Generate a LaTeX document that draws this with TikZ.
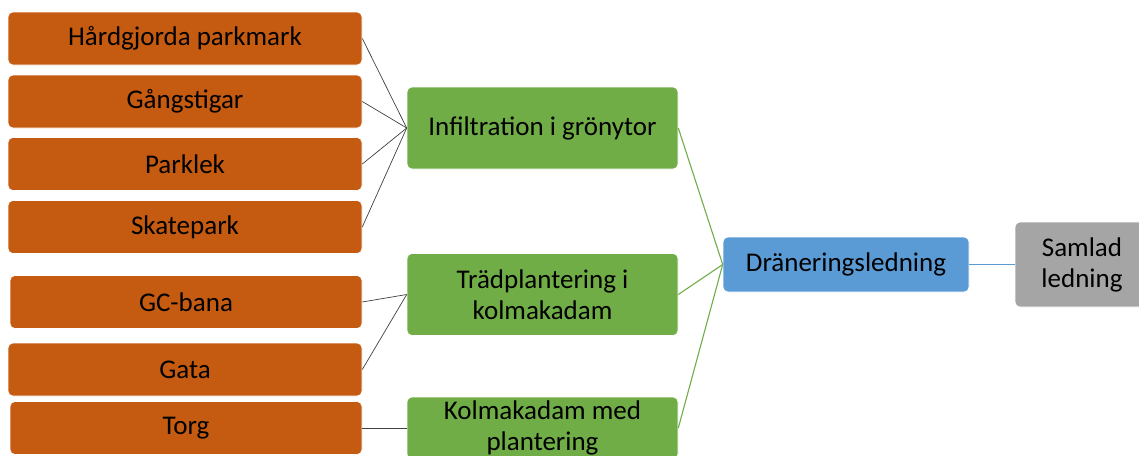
\documentclass[tikz,border=0pt]{standalone}
\usepackage{fontspec}
\setmainfont{Carlito}
\definecolor{orfill}{HTML}{C55A11}
\definecolor{grfill}{HTML}{70AD47}
\definecolor{blfill}{HTML}{5B9BD5}
\definecolor{gyfill}{HTML}{A5A5A5}
\definecolor{conn}{HTML}{404040}
\tikzset{
  box/.style={rounded corners=5pt, draw=white, line width=0.6pt, align=center, inner sep=0pt,
    font=\fontsize{27}{31}\selectfont, text=black},
  obox/.style={box, fill=orfill, minimum width=354pt, minimum height=53pt},
  gbox/.style={box, fill=grfill, minimum width=271pt, minimum height=82pt},
  bbox/.style={box, fill=blfill, minimum width=246pt, minimum height=55pt},
  ybox/.style={box, fill=gyfill, minimum width=134pt, minimum height=85pt},
  gline/.style={draw=conn, line width=0.7pt},
  grline/.style={draw=grfill, line width=1.1pt},
  blline/.style={draw=blfill, line width=1.1pt},
}
\begin{document}
\begin{tikzpicture}[x=1pt,y=-1pt]
\useasboundingbox (0,0) rectangle (1139,455);
\clip (0,0) rectangle (1139,455);
\node[obox] (o1) at (185,38.5) {Hårdgjorda parkmark};
\node[obox] (o2) at (185,101.5) {Gångstigar};
\node[obox] (o3) at (185,164) {Parklek};
\node[obox] (o4) at (185,227) {Skatepark};
\node[obox, minimum width=352pt] (o5) at (186,302) {GC-bana};
\node[obox] (o6) at (185,369.5) {Gata};
\node[obox, minimum width=352pt] (o7) at (186,428) {Torg};
\node[gbox] (g1) at (542.5,128) {Infiltration i grönytor};
\node[gbox] (g2) at (542.5,294.5) {Trädplantering i\\kolmakadam};
\node[gbox, minimum height=62pt] (g3) at (542.5,428) {Kolmakadam med\\plantering};
\node[bbox] (b1) at (846,264.5) {Dräneringsledning};
\node[ybox] (s1) at (1082,264.5) {Samlad\\ledning};
\foreach \o in {o1,o2,o3,o4} \draw[gline] (\o.east) -- (g1.west);
\foreach \o in {o5,o6} \draw[gline] (\o.east) -- (g2.west);
\draw[gline] (o7.east) -- (g3.west);
\foreach \g in {g1,g2,g3} \draw[grline] (\g.east) -- (b1.west);
\draw[blline] (b1.east) -- (s1.west);
\end{tikzpicture}
\end{document}
